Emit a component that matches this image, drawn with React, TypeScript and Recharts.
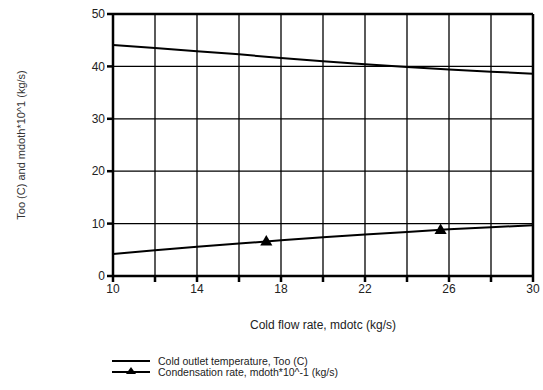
import React from "react";
import {
  LineChart,
  Line,
  Scatter,
  XAxis,
  YAxis,
  CartesianGrid,
  ReferenceLine,
} from "recharts";

const flowRate = [10, 12, 14, 16, 18, 20, 22, 24, 26, 28, 30];
const outletTemp = [44.1, 43.5, 42.9, 42.3, 41.6, 41.0, 40.4, 39.9, 39.4, 39.0, 38.6];
const condensation = [4.2, 4.9, 5.6, 6.2, 6.8, 7.4, 7.9, 8.4, 8.9, 9.3, 9.7];
const markerFlow = [17.3, 25.6];
const markerCond = [6.5, 8.7];
const xTicks = [10, 12, 14, 16, 18, 20, 22, 24, 26, 28, 30];
const yTicks = [0, 10, 20, 30, 40, 50];
const legendLabels = [
  "Cold outlet temperature, Too (C)",
  "Condensation rate, mdoth*10^-1 (kg/s)",
];

const lineData = flowRate.map((x, i) => ({
  x,
  too: outletTemp[i],
  mdoth: condensation[i],
}));
const markerData = markerFlow.map((x, i) => ({ x, m: markerCond[i] }));

const font = "'Liberation Sans', Arial, sans-serif";

const LegendBox = () => (
  <svg
    width={320}
    height={28}
    style={{ position: "absolute", left: 112, top: 355, overflow: "visible" }}
  >
    <line x1={0} y1={6} x2={38} y2={6} stroke="#000" strokeWidth={2} />
    <text x={46} y={10} fontSize={10.5} fontFamily={font} fill="#222">
      {legendLabels[0]}
    </text>
    <line x1={0} y1={17} x2={38} y2={17} stroke="#000" strokeWidth={2} />
    <polygon points="19,12 24,19 14,19" fill="#000" />
    <text x={46} y={21} fontSize={10.5} fontFamily={font} fill="#222">
      {legendLabels[1]}
    </text>
  </svg>
);

export default function App() {
  return (
    <div
      style={{
        position: "absolute",
        left: 0,
        top: 0,
        width: 543,
        height: 390,
        background: "#fff",
      }}
    >
      <LineChart
        width={543}
        height={390}
        data={lineData}
        margin={{ top: 14, right: 10, left: 73, bottom: 84 }}
      >
        <CartesianGrid
          stroke="#000"
          strokeWidth={1.3}
          horizontalValues={yTicks}
          verticalValues={xTicks}
        />
        <XAxis
          dataKey="x"
          type="number"
          domain={[10, 30]}
          ticks={xTicks}
          tickFormatter={(v: number) => ((v - 10) % 4 === 0 ? String(v) : "")}
          allowDataOverflow
          height={30}
          stroke="#000"
          strokeWidth={2.5}
          tickSize={6}
          tick={{ fontSize: 12, fontFamily: font, fill: "#222" }}
          label={{
            value: "Cold flow rate, mdotc (kg/s)",
            position: "insideTop",
            offset: 44,
            fontSize: 12,
            fontFamily: font,
            fill: "#222",
          }}
        />
        <YAxis
          type="number"
          domain={[0, 50]}
          ticks={yTicks}
          width={40}
          stroke="#000"
          strokeWidth={2.5}
          tickSize={6}
          tick={{ fontSize: 12, fontFamily: font, fill: "#222" }}
          label={{
            value: "Too (C) and mdoth*10^1 (kg/s)",
            angle: -90,
            position: "insideLeft",
            dx: -57,
            style: { textAnchor: "middle" },
            fontSize: 11,
            fontFamily: font,
            fill: "#333",
          }}
        />
        <ReferenceLine y={50} stroke="#000" strokeWidth={2.5} />
        <ReferenceLine x={30} stroke="#000" strokeWidth={2.5} />
        <Line
          type="linear"
          dataKey="too"
          stroke="#000"
          strokeWidth={2}
          dot={false}
          isAnimationActive={false}
        />
        <Line
          type="linear"
          dataKey="mdoth"
          stroke="#000"
          strokeWidth={2}
          dot={false}
          isAnimationActive={false}
        />
        <Scatter
          data={markerData}
          dataKey="m"
          shape="triangle"
          fill="#000"
          isAnimationActive={false}
        />
      </LineChart>
      <LegendBox />
    </div>
  );
}
